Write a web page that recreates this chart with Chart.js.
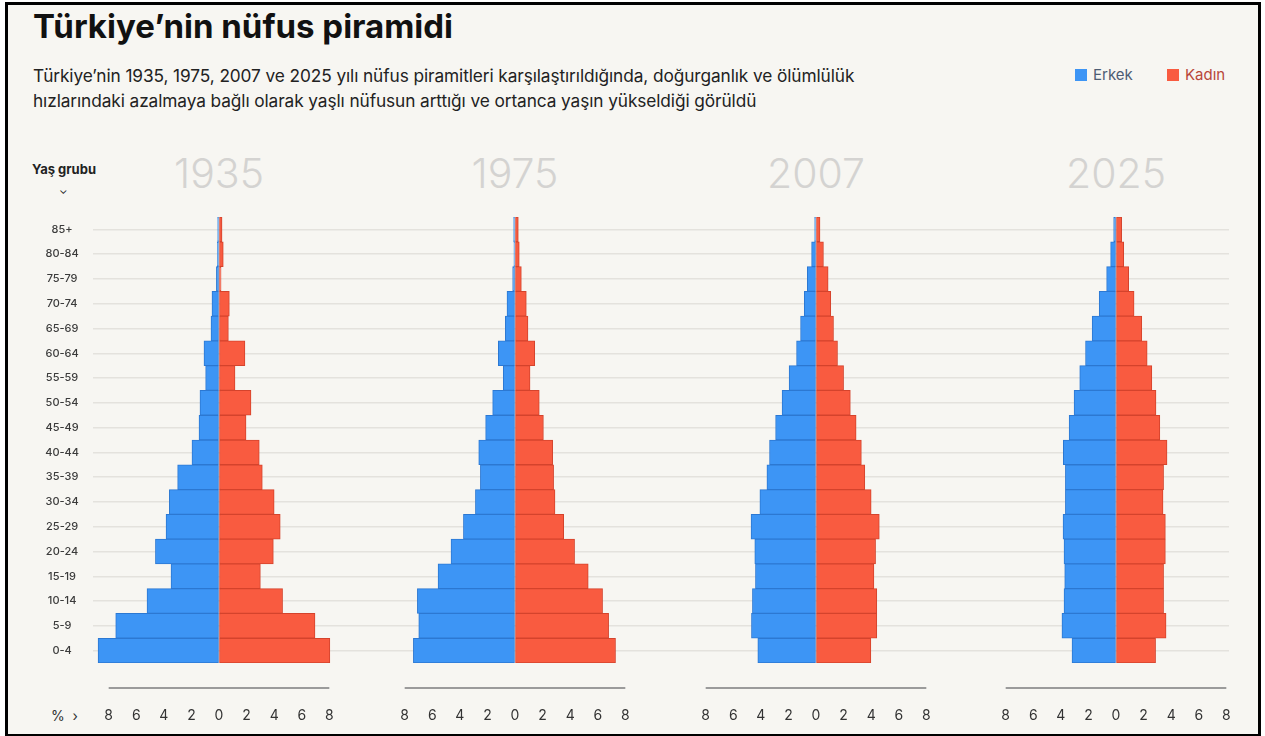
<!DOCTYPE html>
<html>
<head>
<meta charset="utf-8">
<script src="https://cdn.jsdelivr.net/npm/chart.js@4.4.0/dist/chart.umd.min.js"></script>
<style>
  html, body { margin: 0; padding: 0; background: #fff; }
  body { width: 1265px; height: 736px; position: relative; overflow: hidden; font-family: Inter, "Noto Sans", sans-serif; }
  #frame { position: absolute; left: 5px; top: 2px; width: 1250px; height: 729px; border: 3px solid #000; background: #f7f6f2; }
  .abs { position: absolute; white-space: nowrap; }
  #title { left: 33px; top: 6px; font-size: 33px; font-weight: 700; color: #111; letter-spacing: 0px; }
  #sub { left: 33px; top: 63px; font-size: 17.3px; line-height: 25px; color: #222; letter-spacing: -0.1px; }
  .leg { top: 65px; font-size: 15px; }
  .sw { display: inline-block; width: 12px; height: 12px; vertical-align: -1px; margin-right: 6px; }
  .year { top: 148px; font-size: 41px; font-weight: 300; color: #d4d3d1; transform: translateX(-50%); }
  canvas { position: absolute; }
</style>
</head>
<body>
<div id="frame"></div>
<div class="abs" id="title">Türkiye’nin nüfus piramidi</div>
<div class="abs" id="sub">Türkiye’nin 1935, 1975, 2007 ve 2025 yılı nüfus piramitleri karşılaştırıldığında, doğurganlık ve ölümlülük<br>hızlarındaki azalmaya bağlı olarak yaşlı nüfusun arttığı ve ortanca yaşın yükseldiği görüldü</div>
<div class="abs leg" style="left:1075px;color:#4d5d74"><span class="sw" style="background:#3d95f5"></span>Erkek</div>
<div class="abs leg" style="left:1167px;color:#b8473a"><span class="sw" style="background:#f95b40"></span>Kadın</div>
<div class="abs" style="left:32px;top:161px;font-size:13px;font-weight:700;color:#222">Yaş grubu</div>
<div class="abs" style="left:59px;top:183px;font-size:11px;color:#222">⌄</div>
<div class="abs" style="left:51px;top:707px;font-size:14px;color:#333">%&nbsp;&nbsp;›</div>
<div class="abs year" style="left:219px">1935</div>
<div class="abs year" style="left:515px">1975</div>
<div class="abs year" style="left:816px">2007</div>
<div class="abs year" style="left:1116px">2025</div>

<canvas id="c1"></canvas>
<canvas id="c2"></canvas>
<canvas id="c3"></canvas>
<canvas id="c4"></canvas>

<script>
// age groups, top to bottom
const ageGroups = ['85+', '80-84', '75-79', '70-74', '65-69', '60-64', '55-59', '50-54', '45-49',
  '40-44', '35-39', '30-34', '25-29', '20-24', '15-19', '10-14', '5-9', '0-4'];

// % of population, same order as ageGroups
const male1935 = [0.1, 0.12, 0.19, 0.51, 0.58, 1.09, 0.97, 1.38, 1.45, 1.96, 3.0, 3.6, 3.84, 4.61, 3.48, 5.22, 7.49, 8.77];
const female1935 = [0.22, 0.31, 0.15, 0.75, 0.68, 1.88, 1.16, 2.32, 1.96, 2.92, 3.14, 4.0, 4.44, 3.94, 3.0, 4.61, 6.96, 8.04];

const male1975 = [0.1, 0.08, 0.17, 0.58, 0.7, 1.21, 0.85, 1.62, 2.13, 2.63, 2.51, 2.87, 3.74, 4.64, 5.58, 7.08, 6.98, 7.37];
const female1975 = [0.24, 0.31, 0.46, 0.82, 0.94, 1.43, 1.09, 1.76, 2.06, 2.73, 2.8, 2.9, 3.53, 4.32, 5.31, 6.35, 6.79, 7.29];

const male2007 = [0.1, 0.32, 0.63, 0.85, 1.12, 1.41, 1.95, 2.46, 2.93, 3.37, 3.56, 4.07, 4.71, 4.44, 4.39, 4.61, 4.68, 4.22];
const female2007 = [0.29, 0.54, 0.88, 1.07, 1.27, 1.56, 2.0, 2.49, 2.91, 3.29, 3.54, 4.0, 4.59, 4.32, 4.2, 4.41, 4.41, 3.98];

const male2025 = [0.17, 0.39, 0.68, 1.22, 1.73, 2.21, 2.63, 3.04, 3.4, 3.82, 3.67, 3.67, 3.84, 3.77, 3.72, 3.77, 3.92, 3.19];
const female2025 = [0.41, 0.56, 0.92, 1.31, 1.87, 2.26, 2.6, 2.9, 3.18, 3.7, 3.45, 3.41, 3.58, 3.58, 3.45, 3.45, 3.63, 2.87];

const xTicks = [-8, -6, -4, -2, 0, 2, 4, 6, 8];

// layout (px)
const PX = 13.79;      // px per percent
const TOP = 216.5;
const AREA_H = 446;
const AXIS_H = 80;
const Y_AXIS_W = 80;
const RIGHT_PAD = 8;   // room for the last "8" label
const centers = [219, 515, 816, 1116];
const edges = [93, 367, 666, 966, 1229];

// short axis line under each pyramid
const axisLine = {
  id: 'axisLine',
  afterDraw(chart) {
    const x = chart.scales.x;
    const ctx = chart.ctx;
    const y = chart.chartArea.bottom + 25;
    ctx.save();
    ctx.strokeStyle = '#9b9b9b';
    ctx.lineWidth = 2;
    ctx.beginPath();
    ctx.moveTo(x.getPixelForValue(-8), y);
    ctx.lineTo(x.getPixelForValue(8), y);
    ctx.stroke();
    ctx.restore();
  }
};

function noPad(s) {
  s.paddingTop = 0; s.paddingBottom = 0; s.paddingLeft = 0; s.paddingRight = 0;
}

function makePyramid(id, idx, male, female) {
  const first = idx === 0;
  const last = idx === 3;
  const left = edges[idx];
  const right = edges[idx + 1];
  const c = centers[idx];
  const canvas = document.getElementById(id);
  const w = (right - left) + (first ? Y_AXIS_W : 0) + (last ? RIGHT_PAD : 0);
  canvas.width = w;
  canvas.height = AREA_H + AXIS_H;
  canvas.style.left = (left - (first ? Y_AXIS_W : 0)) + 'px';
  canvas.style.top = TOP + 'px';
  canvas.style.width = w + 'px';
  canvas.style.height = (AREA_H + AXIS_H) + 'px';

  new Chart(canvas.getContext('2d'), {
    type: 'bar',
    data: {
      labels: ageGroups,
      datasets: [
        {
          label: 'Erkek',
          data: male.map(v => -v),
          backgroundColor: '#3d95f5',
          borderColor: '#2c78d2',
          borderWidth: 1,
          borderSkipped: false
        },
        {
          label: 'Kadın',
          data: female,
          backgroundColor: '#f95b40',
          borderColor: '#d4432c',
          borderWidth: 1,
          borderSkipped: false
        }
      ]
    },
    options: {
      indexAxis: 'y',
      responsive: false,
      animation: false,
      maintainAspectRatio: false,
      layout: { padding: { left: 0, top: 0, bottom: 0, right: last ? RIGHT_PAD : 0 } },
      datasets: { bar: { barPercentage: 1, categoryPercentage: 1 } },
      plugins: { legend: { display: false }, tooltip: { enabled: false } },
      scales: {
        x: {
          stacked: true,
          min: -(c - left) / PX,
          max: (right - c) / PX,
          afterBuildTicks: s => { s.ticks = xTicks.map(v => ({ value: v })); },
          afterFit: s => { s.height = AXIS_H; noPad(s); },
          // invisible tick marks only push the labels down
          grid: { display: true, drawOnChartArea: false, drawTicks: true, tickLength: 38, tickColor: 'transparent' },
          border: { display: false },
          ticks: {
            callback: v => Math.abs(v),
            padding: 6,
            maxRotation: 0,
            autoSkip: false,
            color: '#333',
            font: { family: 'Inter', size: 14 }
          }
        },
        y: {
          stacked: true,
          afterFit: s => { s.width = first ? Y_AXIS_W : 0; noPad(s); },
          grid: { color: '#e4e2dd', lineWidth: 1.5, offset: false, drawTicks: first, tickLength: 14, tickColor: 'transparent' },
          border: { display: false },
          ticks: {
            display: first,
            padding: 0,
            crossAlign: 'center',
            color: '#3b3b3b',
            font: { family: 'Inter', size: 11, weight: '500' }
          }
        }
      }
    },
    plugins: [axisLine]
  });
}

makePyramid('c1', 0, male1935, female1935);
makePyramid('c2', 1, male1975, female1975);
makePyramid('c3', 2, male2007, female2007);
makePyramid('c4', 3, male2025, female2025);
</script>
</body>
</html>
